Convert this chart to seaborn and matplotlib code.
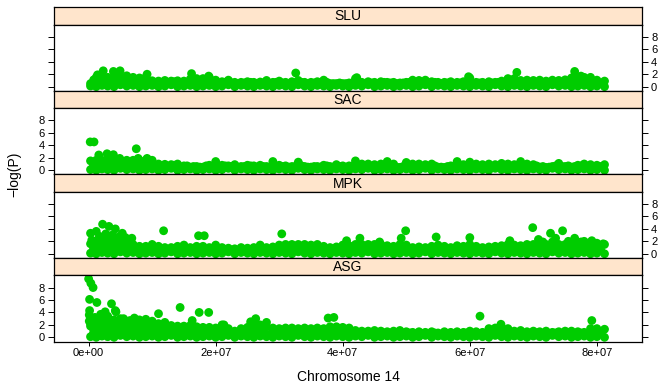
import numpy as np
import pandas as pd
import matplotlib
matplotlib.use("Agg")
import matplotlib.pyplot as plt
import seaborn as sns

# ---------------- data (Mb positions, -log(P) values) -------------
panels = ["SLU", "SAC", "MPK", "ASG"]

snp_mb = [0.3, 1.2, 2.1, 3.0, 4.0, 5.0, 6.0, 7.0, 8.0, 9.0,
          10.0, 11.0, 12.0, 13.0, 14.0, 15.0, 16.0, 17.0, 18.0, 19.0,
          20.0, 21.0, 22.0, 23.0, 24.0, 25.0, 26.0, 27.0, 28.0, 29.0,
          30.0, 31.0, 32.0, 33.0, 34.0, 35.0, 36.0, 37.0, 38.0, 39.0,
          40.0, 41.0, 42.0, 43.0, 44.0, 45.0, 46.0, 47.0, 48.0, 49.0,
          50.0, 51.0, 52.0, 53.0, 54.0, 55.0, 56.0, 57.0, 58.0, 59.0,
          60.0, 61.0, 62.0, 63.0, 64.0, 65.0, 66.0, 67.0, 68.0, 69.0,
          70.0, 71.0, 72.0, 73.0, 74.0, 75.0, 76.0, 77.0, 78.0, 79.0,
          80.0, 81.2]

base_val = [0.1, 0.0, 0.2, 0.1, 0.0, 0.3, 0.1, 0.2, 0.0, 0.1,
            0.2, 0.0, 0.1, 0.3, 0.0, 0.1, 0.2, 0.0, 0.1, 0.2,
            0.0, 0.1, 0.3, 0.0, 0.2, 0.1, 0.0, 0.2, 0.1, 0.0,
            0.2, 0.1, 0.0, 0.3, 0.1, 0.0, 0.2, 0.1, 0.0, 0.2,
            0.1, 0.0, 0.2, 0.1, 0.3, 0.0, 0.1, 0.2, 0.0, 0.1,
            0.2, 0.0, 0.1, 0.3, 0.0, 0.2, 0.1, 0.0, 0.2, 0.1,
            0.0, 0.2, 0.1, 0.0, 0.3, 0.1, 0.0, 0.2, 0.1, 0.0,
            0.2, 0.1, 0.0, 0.3, 0.1, 0.2, 0.0, 0.1, 0.2, 0.0,
            0.1, 0.0]

# second row of SNPs between the ones above
mid_mb = [0.75, 1.65, 2.55, 3.5, 4.5, 5.5, 6.5, 7.5, 8.5, 9.5,
          10.5, 11.5, 12.5, 13.5, 14.5, 15.5, 16.5, 17.5, 18.5, 19.5,
          20.5, 21.5, 22.5, 23.5, 24.5, 25.5, 26.5, 27.5, 28.5, 29.5,
          30.5, 31.5, 32.5, 33.5, 34.5, 35.5, 36.5, 37.5, 38.5, 39.5,
          40.5, 41.5, 42.5, 43.5, 44.5, 45.5, 46.5, 47.5, 48.5, 49.5,
          50.5, 51.5, 52.5, 53.5, 54.5, 55.5, 56.5, 57.5, 58.5, 59.5,
          60.5, 61.5, 62.5, 63.5, 64.5, 65.5, 66.5, 67.5, 68.5, 69.5,
          70.5, 71.5, 72.5, 73.5, 74.5, 75.5, 76.5, 77.5, 78.5, 79.5,
          80.6]
mid_val = [0.6, 0.8, 0.5, 0.7, 0.8, 0.6, 0.7, 0.5, 0.8, 0.6,
           0.7, 0.5, 0.6, 0.8, 0.5, 0.7, 0.6, 0.5, 0.7, 0.6,
           0.5, 0.7, 0.6, 0.5, 0.6, 0.7, 0.5, 0.6, 0.5, 0.7,
           0.6, 0.5, 0.6, 0.7, 0.5, 0.6, 0.5, 0.7, 0.5, 0.6,
           0.5, 0.6, 0.7, 0.5, 0.6, 0.5, 0.7, 0.6, 0.5, 0.6,
           0.7, 0.5, 0.6, 0.5, 0.7, 0.5, 0.6, 0.5, 0.6, 0.7,
           0.5, 0.6, 0.5, 0.6, 0.7, 0.5, 0.6, 0.7, 0.5, 0.6,
           0.7, 0.6, 0.5, 0.7, 0.6, 0.7, 0.6, 0.7, 0.6, 0.5,
           0.6]

slu_band = [0.5, 1.5, 1.6, 1.5, 1.6, 1.6, 1.5, 1.5, 1.4, 1.5,
            0.95, 0.9, 1.0, 0.9, 0.95, 0.9, 1.2, 1.3, 1.3, 1.5,
            1.05, 0.8, 1.05, 0.7, 0.7, 0.8, 0.7, 0.75, 1.0, 0.7,
            0.9, 0.7, 0.8, 1.0, 0.7, 0.7, 0.8, 1.05, 0.5, 0.5,
            0.5, 0.6, 1.3, 0.7, 0.8, 0.7, 0.8, 0.7, 0.7, 0.6,
            0.7, 1.05, 1.0, 1.05, 0.8, 0.7, 0.7, 0.8, 0.7, 0.8,
            1.4, 0.7, 0.7, 0.8, 0.7, 0.9, 1.3, 1.3, 1.0, 1.05,
            1.0, 1.05, 0.9, 1.05, 1.0, 1.1, 1.4, 1.5, 1.5, 1.5,
            1.05, 0.9]
slu_peak_mb = [1.4, 2.3, 3.9, 4.95, 6.0, 9.2, 16.2, 18.9, 32.6, 42.2, 59.8, 67.4,
               76.5, 77.5, 0.8, 1.7, 2.6, 3.5, 4.5, 5.5, 6.5, 7.5, 8.5, 9.5]
slu_peak_val = [1.9, 2.55, 2.45, 2.55, 1.75, 2.0, 2.1, 1.7, 2.2, 1.45, 1.6, 2.3,
                2.45, 1.7, 1.1, 1.1, 1.0, 1.1, 1.0, 1.1, 1.0, 1.1, 1.0, 0.9]

sac_band = [1.5, 1.6, 1.6, 1.6, 1.6, 1.6, 1.6, 1.6, 1.6, 1.6,
            1.6, 1.0, 0.95, 0.9, 1.0, 0.7, 0.5, 0.6, 0.5, 0.8,
            1.4, 0.8, 0.7, 0.9, 0.6, 0.8, 0.7, 0.8, 0.6, 1.4,
            0.8, 0.7, 0.6, 1.3, 0.6, 0.5, 0.6, 0.8, 0.6, 0.9,
            0.7, 0.7, 1.5, 1.0, 1.0, 0.9, 1.0, 1.4, 1.0, 0.45,
            1.25, 1.0, 1.0, 0.9, 1.0, 0.5, 0.45, 0.7, 1.4, 0.9,
            1.3, 1.0, 0.9, 1.0, 0.9, 1.1, 1.0, 0.9, 1.4, 1.0,
            0.9, 0.5, 0.45, 0.6, 1.1, 0.6, 0.5, 0.8, 1.0, 0.9,
            0.8, 0.9]
sac_peak_mb = [0.25, 0.85, 7.5, 1.6, 2.9, 3.9, 4.9, 7.8, 9.2, 0.8, 1.7, 2.6, 3.5,
               4.5, 5.5, 6.5, 7.5, 8.5, 9.5]
sac_peak_val = [4.55, 4.55, 3.45, 2.45, 2.65, 2.5, 1.9, 1.9, 1.9, 1.1, 1.1, 1.0, 1.1,
                1.0, 1.1, 1.0, 1.1, 1.0, 0.9]

mpk_band = [1.6, 1.6, 1.6, 1.6, 1.6, 1.6, 1.6, 1.5, 1.2, 1.2,
            1.5, 1.2, 1.0, 1.0, 1.2, 1.4, 1.0, 1.2, 1.2, 1.0,
            1.4, 1.0, 0.9, 0.8, 1.0, 0.9, 1.0, 1.4, 1.0, 1.1,
            1.4, 1.5, 1.5, 1.5, 1.5, 1.4, 1.5, 1.2, 1.0, 1.1,
            1.4, 1.3, 1.5, 1.5, 1.5, 1.5, 1.5, 1.3, 1.2, 1.5,
            1.4, 1.0, 1.1, 1.0, 1.2, 1.4, 1.2, 1.0, 1.3, 1.2,
            1.5, 1.2, 1.0, 1.1, 1.2, 1.3, 1.5, 1.4, 1.3, 1.5,
            1.5, 1.5, 1.5, 1.5, 1.5, 1.5, 1.5, 1.5, 1.5, 1.5,
            1.4, 1.5]
mpk_peak_mb = [0.3, 1.2, 2.2, 3.2, 4.2, 5.3, 5.8, 6.8, 1.7, 2.7, 3.7, 4.7, 0.5, 1.5,
               2.5, 3.5, 4.5, 5.5, 0.8, 2.0, 3.0, 4.0, 5.0, 6.0, 7.0,
               11.8, 17.3, 18.2, 30.4, 40.6, 42.7, 45.8, 49.2, 49.9, 54.7, 60.0,
               66.3, 69.9, 70.8, 72.7, 74.6, 73.5, 76.5, 78.0, 79.2, 81.0,
               71.5, 73.0, 75.5, 77.5, 80.0]
mpk_peak_val = [3.3, 3.6, 4.75, 4.4, 4.0, 3.3, 2.6, 2.5, 2.8, 3.2, 3.0, 2.7, 2.2, 2.2,
                2.3, 2.2, 2.0, 2.0, 1.0, 0.9, 1.0, 0.9, 1.0, 0.9, 0.8,
                3.7, 2.9, 2.9, 3.2, 2.1, 2.5, 1.9, 2.5, 3.7, 2.7, 2.6,
                2.1, 4.2, 2.3, 3.3, 3.7, 2.5, 2.5, 2.0, 2.1, 1.6,
                1.9, 1.9, 2.0, 1.9, 1.7]

asg_band = [2.2, 2.6, 2.8, 2.7, 2.8, 2.6, 2.4, 2.5, 2.3, 2.4,
            2.3, 2.2, 2.1, 1.9, 1.8, 1.8, 1.9, 1.7, 1.6, 1.6,
            1.5, 2.0, 1.4, 1.0, 1.4, 1.6, 2.2, 2.0, 1.7, 1.5,
            1.4, 1.5, 1.5, 1.4, 1.5, 1.4, 1.5, 1.4, 1.7, 1.7,
            1.6, 1.5, 1.1, 1.0, 1.0, 1.1, 1.0, 0.9, 1.0, 1.1,
            0.9, 0.8, 0.9, 0.8, 0.9, 0.7, 0.9, 0.8, 0.9, 0.8,
            1.0, 0.9, 0.8, 1.4, 1.5, 1.5, 1.4, 1.0, 1.1, 0.9,
            1.0, 0.9, 1.0, 0.8, 0.9, 1.0, 1.0, 0.9, 0.8, 1.4,
            1.4, 1.3]
asg_peak_mb = [0.0, 0.35, 0.7, 0.15, 1.3, 0.15, 3.6, 2.6, 4.2, 1.9, 4.3, 7.2, 11.0,
               14.4, 17.4, 18.9, 16.3, 21.3, 26.3, 25.5, 28.0, 37.7, 38.6, 61.6,
               64.9, 79.2,
               0.6, 3.0, 5.5, 9.0, 0.3, 1.0, 2.4, 5.0, 6.5, 8.0, 10.0, 12.0, 0.1, 0.1,
               0.8, 1.7, 2.6, 3.5, 4.5, 5.5, 6.5, 7.5, 8.5, 9.5, 10.5, 11.5, 12.5,
               13.5, 14.5, 15.5, 16.5, 17.5, 18.5, 21.0, 25.5, 26.5, 27.5, 38.5, 39.5,
               0.5, 1.5, 2.5, 3.5, 4.5, 5.5, 6.5, 7.5, 8.5, 9.5, 10.5, 11.5]
asg_peak_val = [9.4, 8.7, 8.0, 6.1, 5.6, 4.3, 5.4, 4.1, 4.3, 3.7, 4.1, 3.1, 3.8,
                4.8, 4.0, 4.0, 2.7, 2.0, 3.0, 2.5, 2.4, 3.1, 3.2, 3.4,
                2.1, 2.7,
                3.0, 3.4, 3.0, 2.9, 1.8, 3.2, 3.3, 3.0, 2.7, 2.8, 2.6, 2.4, 3.6, 2.6,
                1.2, 1.3, 1.2, 1.3, 1.2, 1.3, 1.2, 1.3, 1.2, 1.3, 1.2, 1.1, 1.0,
                1.0, 0.9, 0.9, 1.0, 0.9, 0.8, 1.0, 1.1, 1.1, 1.0, 1.0, 0.9,
                2.0, 2.1, 1.9, 2.2, 2.0, 1.9, 2.0, 1.8, 1.9, 1.8, 1.7, 1.6]

bands = {"SLU": slu_band, "SAC": sac_band, "MPK": mpk_band, "ASG": asg_band}
peaks = {"SLU": (slu_peak_mb, slu_peak_val), "SAC": (sac_peak_mb, sac_peak_val),
         "MPK": (mpk_peak_mb, mpk_peak_val), "ASG": (asg_peak_mb, asg_peak_val)}

y_ticks = [0, 2, 4, 6, 8]
x_ticks = [0, 2e7, 4e7, 6e7, 8e7]
x_tick_labels = ["0e+00", "2e+07", "4e+07", "6e+07", "8e+07"]

frames = []
for p in panels:
    pm, pv = peaks[p]
    pos = list(snp_mb) + list(mid_mb) + list(snp_mb) + list(pm)
    val = list(base_val) + list(mid_val) + list(bands[p]) + list(pv)
    frames.append(pd.DataFrame({"panel": p, "pos": np.array(pos) * 1e6, "logp": val}))
df = pd.concat(frames, ignore_index=True)

# ---------------- figure ----------------
sns.set_style("white")
plt.rcParams["font.family"] = ["Liberation Sans", "DejaVu Sans"]
plt.rcParams["text.color"] = "black"
plt.rcParams["xtick.color"] = "black"
plt.rcParams["ytick.color"] = "black"
plt.rcParams["axes.labelcolor"] = "black"

W, H = 664, 383
fig = plt.figure(figsize=(W / 100, H / 100), dpi=100)
left_px, right_px = 54, 642
top0, unit, strip_h, panel_h = 7.3, 83.55, 17.3, 66.3
green = "#00CC00"

for k, p in enumerate(panels):
    st = top0 + k * unit
    sax = fig.add_axes([left_px / W, 1 - (st + strip_h) / H, (right_px - left_px) / W, strip_h / H])
    sax.set_facecolor("#FFE5CC")
    sax.set_xticks([]); sax.set_yticks([])
    for s in sax.spines.values():
        s.set_color("black"); s.set_linewidth(0.9)
    sax.text(0.5, 0.47, p, ha="center", va="center", fontsize=10, color="black",
             transform=sax.transAxes)

    ax = fig.add_axes([left_px / W, 1 - (st + strip_h + panel_h) / H, (right_px - left_px) / W, panel_h / H])
    sub = df[df["panel"] == p]
    sns.scatterplot(data=sub, x="pos", y="logp", ax=ax, color=green, s=40,
                    edgecolor="none", linewidth=0, legend=False)
    ax.set_xlim(-5.45e6, 87.1e6)
    ax.set_ylim(-0.68, 9.98)
    ax.set_xlabel(""); ax.set_ylabel("")
    for s in ax.spines.values():
        s.set_color("black"); s.set_linewidth(0.9)
    ax.set_yticks(y_ticks)
    ax.set_yticklabels([str(t) for t in y_ticks])
    right_lab = (k % 2 == 0)
    ax.tick_params(axis="y", direction="out", length=4.5, width=0.7, labelsize=8, pad=2,
                   colors="black", left=True, right=True,
                   labelleft=not right_lab, labelright=right_lab)
    if p == "ASG":
        ax.set_xticks(x_ticks)
        ax.set_xticklabels(x_tick_labels)
        ax.tick_params(axis="x", direction="out", length=3, width=0.7, labelsize=8, pad=1.5,
                       colors="black", bottom=True, top=False)
    else:
        ax.set_xticks([])

fig.text(348 / W, 1 - 377 / H, "Chromosome 14", ha="center", va="center", fontsize=10,
         color="black")
fig.text(14 / W, 1 - 174 / H, "\u2212log(P)", ha="center", va="center", rotation=90,
         fontsize=10, color="black")

fig.savefig("out.png", dpi=100)
